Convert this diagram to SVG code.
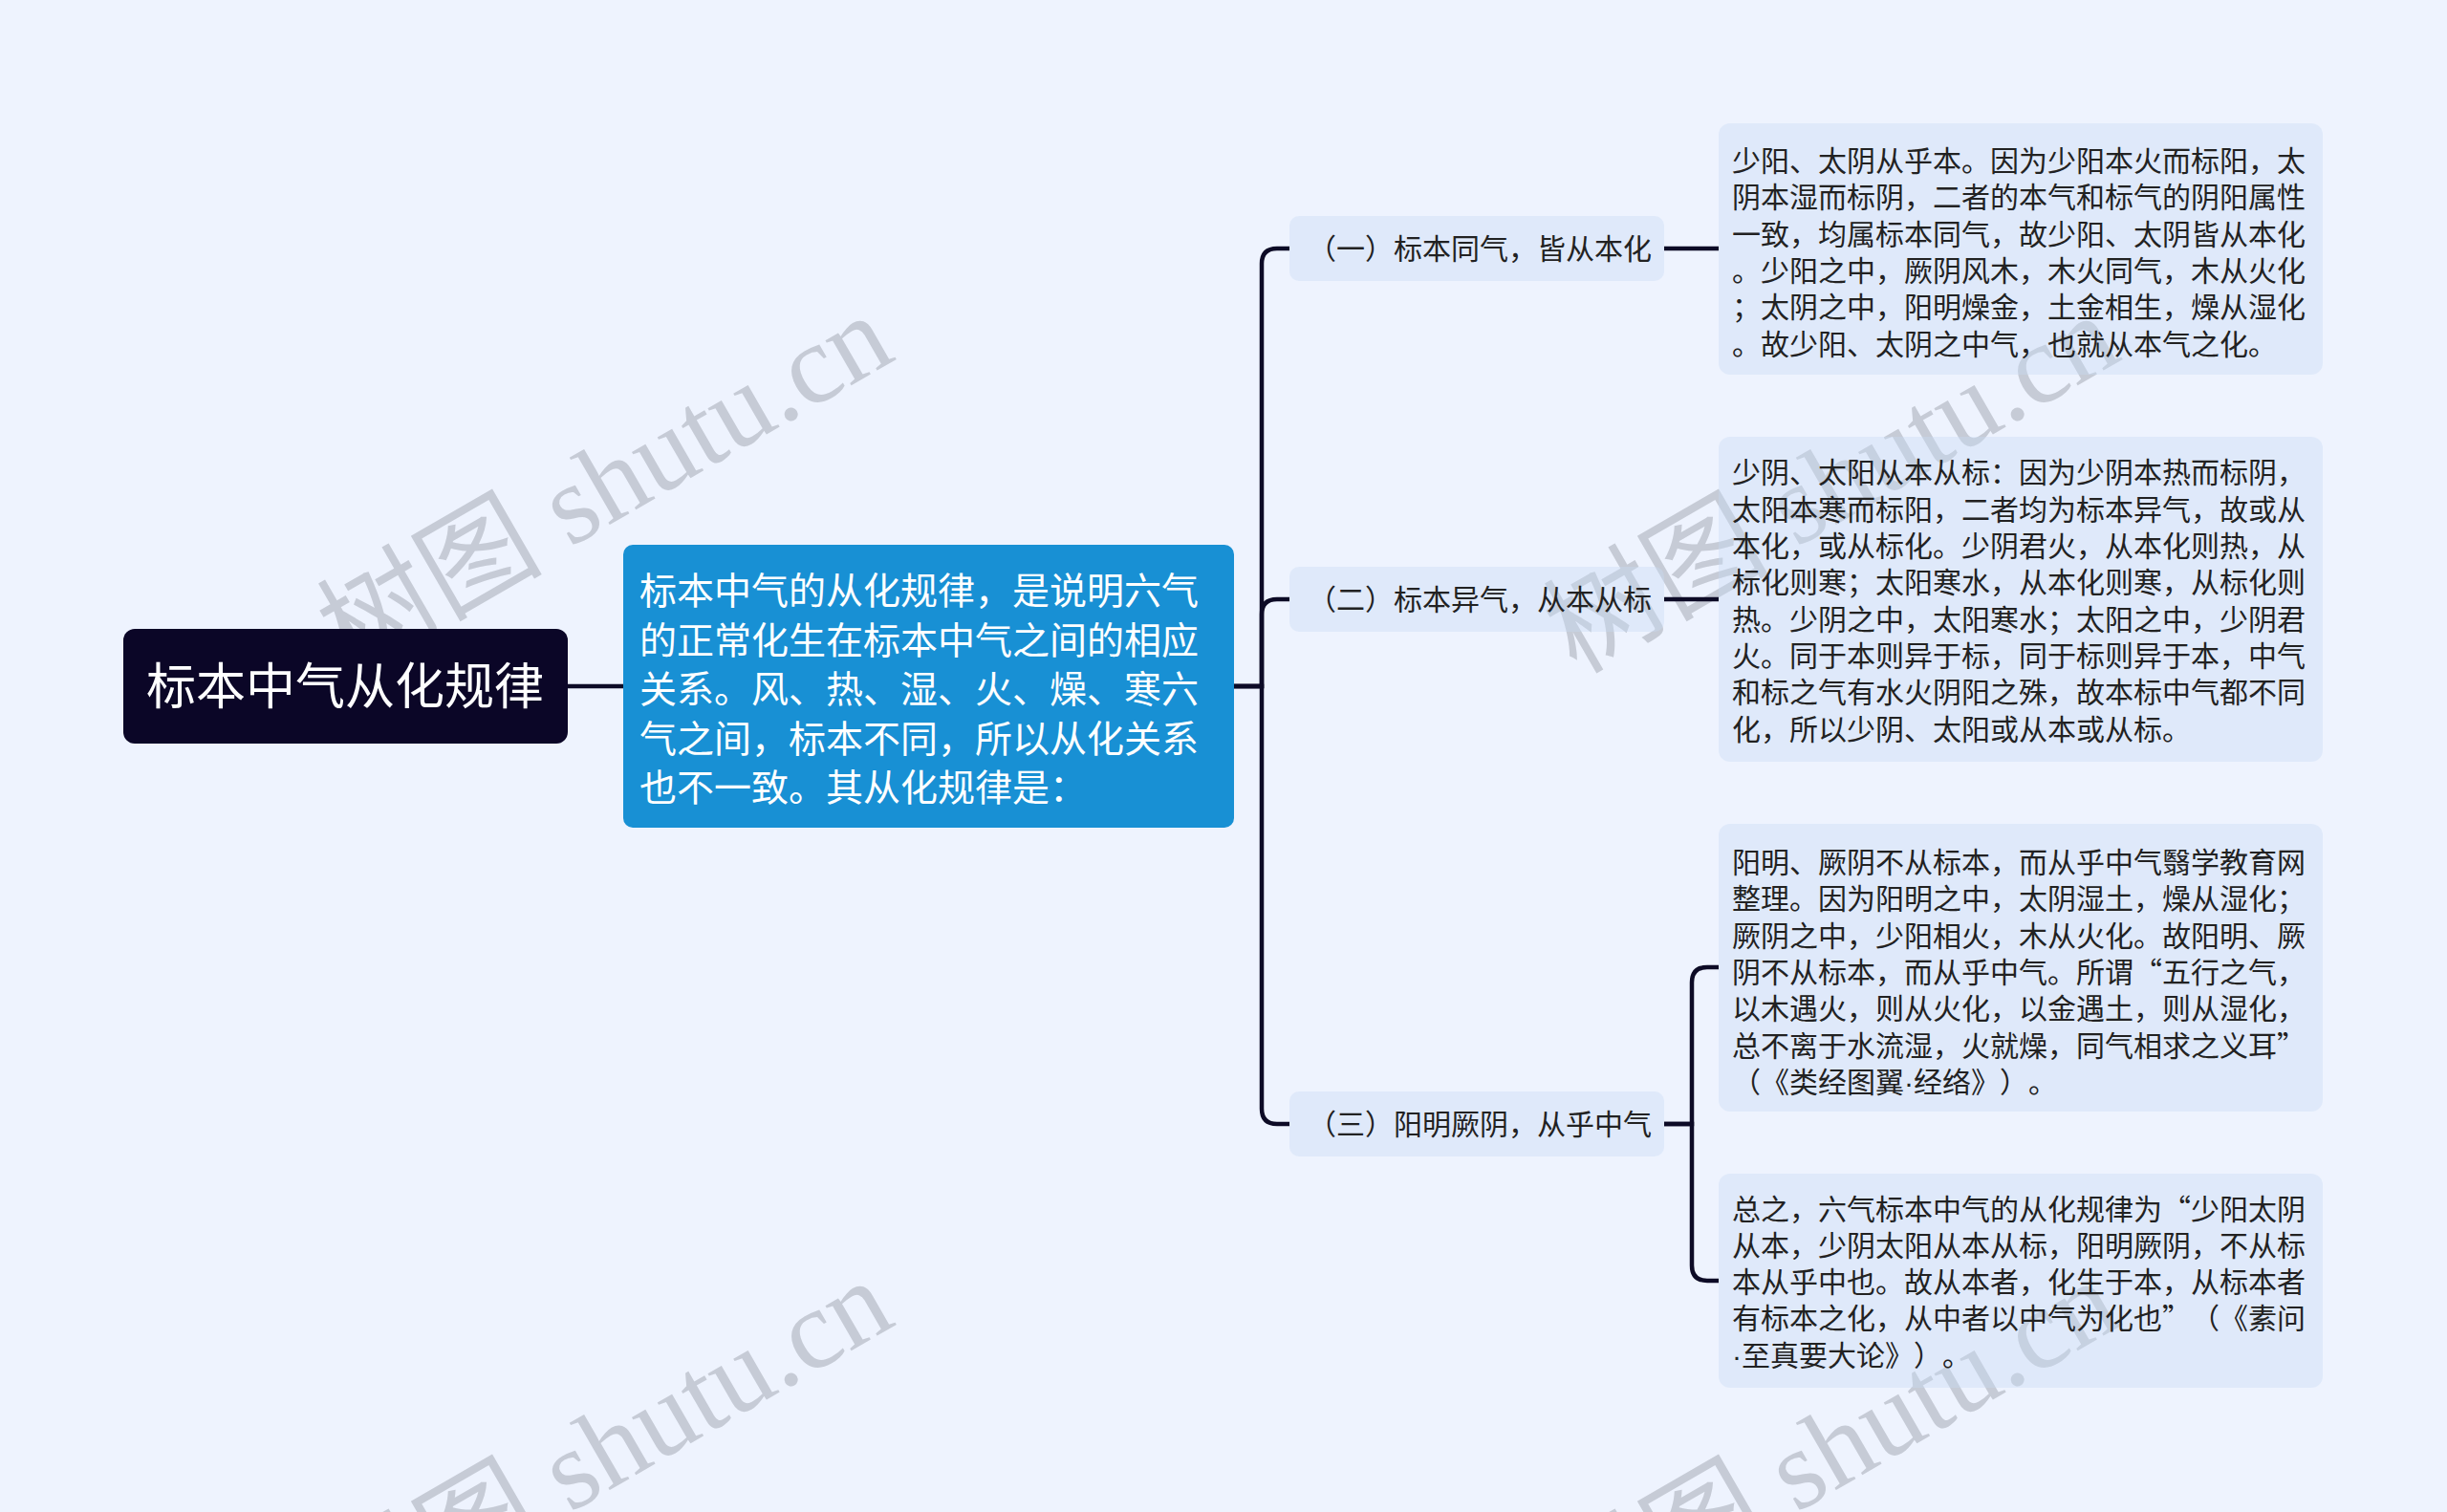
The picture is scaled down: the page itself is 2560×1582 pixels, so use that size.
<svg xmlns="http://www.w3.org/2000/svg" width="2560" height="1582" viewBox="0 0 2560 1582">
<style>
  .wm { font-family: "Liberation Serif", "Noto Sans CJK SC", serif; font-size: 118px; fill: #c6cbd6; }
  .t { font-family: "Liberation Sans", "Noto Sans CJK SC", sans-serif; text-spacing-trim: space-all; }
  .q { font-family: "Noto Sans CJK SC", sans-serif; }
  .root-t { font-size: 52px; fill: #ffffff; }
  .main-t { font-size: 39px; fill: #ffffff; }
  .l2 { fill: #c9d9f5; fill-opacity: 0.38; }
  .l2-t { font-size: 30px; fill: #222222; }
  .l3-t { font-size: 30px; fill: #222222; }
  .conn { fill: none; stroke: #0d0b26; stroke-width: 4.5; stroke-linecap: butt; }
</style>
<rect x="0" y="0" width="2560" height="1582" fill="#eef3fe"/>

<g id="watermarks">
  <text class="wm" x="366" y="706" transform="rotate(-30 366 706)">树图 shutu.cn</text>
  <text class="wm" x="1649" y="706" transform="rotate(-30 1649 706)">树图 shutu.cn</text>
  <text class="wm" x="366" y="1716" transform="rotate(-30 366 1716)">树图 shutu.cn</text>
  <text class="wm" x="1649" y="1716" transform="rotate(-30 1649 1716)">树图 shutu.cn</text>
</g>

<g id="connectors">
  <path class="conn" d="M594,718 H652"/>
  <path class="conn" d="M1291,718 H1320 V276 Q1320,260 1336,260 H1349"/>
  <path class="conn" d="M1291,718 H1320 V643 Q1320,627 1336,627 H1349"/>
  <path class="conn" d="M1291,718 H1320 V1160 Q1320,1176 1336,1176 H1349"/>
  <path class="conn" d="M1741,260 H1798"/>
  <path class="conn" d="M1741,627 H1798"/>
  <path class="conn" d="M1741,1176 H1770 V1028 Q1770,1012 1786,1012 H1798"/>
  <path class="conn" d="M1741,1176 H1770 V1324 Q1770,1340 1786,1340 H1798"/>
</g>

<g id="root">
  <rect x="129" y="658" width="465" height="120" rx="12" fill="#0b0627"/>
  <text class="t root-t" x="361" y="737" text-anchor="middle">标本中气从化规律</text>
</g>

<g id="main">
  <rect x="652" y="570" width="639" height="296" rx="10" fill="#1890d4"/>
  <text class="t main-t">
    <tspan x="669" y="632">标本中气的从化规律，是说明六气</tspan>
    <tspan x="669" y="683.5">的正常化生在标本中气之间的相应</tspan>
    <tspan x="669" y="735">关系。风、热、湿、火、燥、寒六</tspan>
    <tspan x="669" y="786.5">气之间，标本不同，所以从化关系</tspan>
    <tspan x="669" y="838">也不一致。其从化规律是：</tspan>
  </text>
</g>

<g id="branch1">
  <rect class="l2" x="1349" y="226" width="392" height="68" rx="10"/>
  <text class="t l2-t" x="1548" y="271" text-anchor="middle">（一）标本同气，皆从本化</text>
</g>
<g id="branch2">
  <rect class="l2" x="1349" y="593" width="392" height="68" rx="10"/>
  <text class="t l2-t" x="1548" y="638" text-anchor="middle">（二）标本异气，从本从标</text>
</g>
<g id="branch3">
  <rect class="l2" x="1349" y="1142" width="392" height="68" rx="10"/>
  <text class="t l2-t" x="1548" y="1187" text-anchor="middle">（三）阳明厥阴，从乎中气</text>
</g>

<g id="leaf1">
  <rect class="l2" x="1798" y="129" width="632" height="263" rx="12"/>
  <text class="t l3-t">
    <tspan x="1812" y="179">少阳、太阴从乎本。因为少阳本火而标阳，太</tspan>
    <tspan x="1812" y="217.3">阴本湿而标阴，二者的本气和标气的阴阳属性</tspan>
    <tspan x="1812" y="255.6">一致，均属标本同气，故少阳、太阴皆从本化</tspan>
    <tspan x="1812" y="293.9">。少阳之中，厥阴风木，木火同气，木从火化</tspan>
    <tspan x="1812" y="332.2">；太阴之中，阳明燥金，土金相生，燥从湿化</tspan>
    <tspan x="1812" y="370.5">。故少阳、太阴之中气，也就从本气之化。</tspan>
  </text>
</g>

<g id="leaf2">
  <rect class="l2" x="1798" y="457" width="632" height="340" rx="12"/>
  <text class="t l3-t">
    <tspan x="1812" y="505.4">少阴、太阳从本从标：因为少阴本热而标阴，</tspan>
    <tspan x="1812" y="543.7">太阳本寒而标阳，二者均为标本异气，故或从</tspan>
    <tspan x="1812" y="582">本化，或从标化。少阴君火，从本化则热，从</tspan>
    <tspan x="1812" y="620.3">标化则寒；太阳寒水，从本化则寒，从标化则</tspan>
    <tspan x="1812" y="658.6">热。少阴之中，太阳寒水；太阳之中，少阴君</tspan>
    <tspan x="1812" y="696.9">火。同于本则异于标，同于标则异于本，中气</tspan>
    <tspan x="1812" y="735.2">和标之气有水火阴阳之殊，故本标中气都不同</tspan>
    <tspan x="1812" y="773.5">化，所以少阴、太阳或从本或从标。</tspan>
  </text>
</g>

<g id="leaf3">
  <rect class="l2" x="1798" y="862" width="632" height="301" rx="12"/>
  <text class="t l3-t">
    <tspan x="1812" y="913">阳明、厥阴不从标本，而从乎中气翳学教育网</tspan>
    <tspan x="1812" y="951.3">整理。因为阳明之中，太阴湿土，燥从湿化；</tspan>
    <tspan x="1812" y="989.6">厥阴之中，少阳相火，木从火化。故阳明、厥</tspan>
    <tspan x="1812" y="1027.9">阴不从标本，而从乎中气。所谓<tspan class="q">“</tspan>五行之气，</tspan>
    <tspan x="1812" y="1066.2">以木遇火，则从火化，以金遇土，则从湿化，</tspan>
    <tspan x="1812" y="1104.5">总不离于水流湿，火就燥，同气相求之义耳<tspan class="q">”</tspan></tspan>
    <tspan x="1812" y="1142.8">（《类经图翼·经络》）。</tspan>
  </text>
</g>

<g id="leaf4">
  <rect class="l2" x="1798" y="1228" width="632" height="224" rx="12"/>
  <text class="t l3-t">
    <tspan x="1812" y="1275.5">总之，六气标本中气的从化规律为<tspan class="q">“</tspan>少阳太阴</tspan>
    <tspan x="1812" y="1313.8">从本，少阴太阳从本从标，阳明厥阴，不从标</tspan>
    <tspan x="1812" y="1352.1">本从乎中也。故从本者，化生于本，从标本者</tspan>
    <tspan x="1812" y="1390.4">有标本之化，从中者以中气为化也<tspan class="q">”</tspan>（《素问</tspan>
    <tspan x="1812" y="1428.7">·至真要大论》）。</tspan>
  </text>
</g>
</svg>
